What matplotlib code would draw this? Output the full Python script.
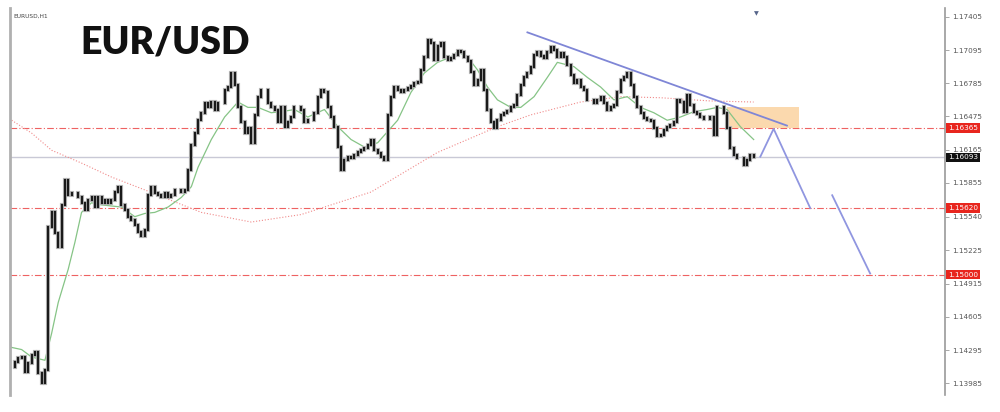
import matplotlib
matplotlib.use("Agg")
import matplotlib.pyplot as plt
import matplotlib.transforms as mtransforms

# EUR/USD H1 closes (one per candle)
closes = [
    1.1414, 1.1418, 1.1422, 1.1423, 1.1409, 1.1417, 1.1425, 1.1428, 1.1408, 1.1399,
    1.1411, 1.1544, 1.1558, 1.1539, 1.1526, 1.1565, 1.1588, 1.1574, 1.1576, 1.1576,
    1.1572, 1.1567, 1.1560, 1.1570, 1.1572, 1.1563, 1.1572, 1.1567, 1.1570, 1.1567,
    1.1570, 1.1577, 1.1582, 1.1565, 1.1560, 1.1554, 1.1551, 1.1546, 1.1540, 1.1536,
    1.1542, 1.1574, 1.1582, 1.1576, 1.1574, 1.1572, 1.1576, 1.1572, 1.1574, 1.1579,
    1.1579, 1.1577, 1.1579, 1.1598, 1.1621, 1.1632, 1.1644, 1.1651, 1.1660, 1.1656,
    1.1661, 1.1654, 1.1660, 1.1660, 1.1672, 1.1675, 1.1688, 1.1677, 1.1656, 1.1642,
    1.1632, 1.1637, 1.1623, 1.1649, 1.1666, 1.1672, 1.1672, 1.1660, 1.1656, 1.1654,
    1.1642, 1.1656, 1.1638, 1.1642, 1.1647, 1.1656, 1.1656, 1.1654, 1.1642, 1.1644,
    1.1644, 1.1651, 1.1666, 1.1672, 1.1670, 1.1656, 1.1647, 1.1638, 1.1619, 1.1598,
    1.1607, 1.1610, 1.1609, 1.1612, 1.1614, 1.1616, 1.1618, 1.1621, 1.1626, 1.1616,
    1.1613, 1.1610, 1.1607, 1.1649, 1.1666, 1.1675, 1.1672, 1.1670, 1.1672, 1.1674,
    1.1676, 1.1679, 1.1680, 1.1691, 1.1703, 1.1719, 1.1716, 1.1700, 1.1713, 1.1716,
    1.1703, 1.1700, 1.1702, 1.1705, 1.1709, 1.1708, 1.1703, 1.1699, 1.1689, 1.1677,
    1.1682, 1.1691, 1.1672, 1.1654, 1.1642, 1.1637, 1.1644, 1.1649, 1.1651, 1.1653,
    1.1656, 1.1658, 1.1668, 1.1677, 1.1684, 1.1688, 1.1694, 1.1705, 1.1708, 1.1704,
    1.1702, 1.1708, 1.1712, 1.1710, 1.1703, 1.1707, 1.1703, 1.1696, 1.1686, 1.1679,
    1.1682, 1.1675, 1.1672, 1.1663, 1.1663, 1.1660, 1.1663, 1.1666, 1.1660, 1.1654,
    1.1656, 1.1658, 1.1670, 1.1682, 1.1684, 1.1688, 1.1677, 1.1666, 1.1656, 1.1651,
    1.1646, 1.1644, 1.1643, 1.1637, 1.1629, 1.1630, 1.1635, 1.1638, 1.1640, 1.1642,
    1.1663, 1.1661, 1.1652, 1.1668, 1.1658, 1.1652, 1.1650, 1.1647, 1.1645, 1.1645,
    1.1647, 1.1630, 1.1656, 1.1656, 1.1651, 1.1637, 1.1618, 1.1612, 1.1609, 1.1609,
    1.1602, 1.1607, 1.1612, 1.1610,
]

# fast moving average (green), read at some candles
fast_ma_idx = [0, 3, 6, 10, 12, 14, 17, 19, 21, 24, 27, 33, 37, 40, 43, 47, 51, 54, 56, 60,
               64, 68, 71, 74, 78, 81, 85, 89, 94, 98, 102, 106, 110, 116, 120, 124, 128, 132,
               134, 137, 140, 143, 146, 150, 153, 157, 161, 164, 169, 173, 177, 181, 185, 189,
               193, 197, 201, 205, 209, 212, 215, 219, 223]
fast_ma = [1.1432, 1.1430, 1.1423, 1.1420, 1.1445, 1.1474, 1.1505, 1.1530, 1.1558, 1.1567,
           1.1565, 1.1563, 1.1554, 1.1557, 1.1558, 1.1563, 1.1572, 1.1582, 1.1600, 1.1626,
           1.1647, 1.1661, 1.1656, 1.1656, 1.1651, 1.1652, 1.1654, 1.1647, 1.1654, 1.1638,
           1.1626, 1.1619, 1.1623, 1.1644, 1.1670, 1.1688, 1.1698, 1.1703, 1.1708, 1.1703,
           1.1691, 1.1675, 1.1663, 1.1656, 1.1656, 1.1666, 1.1684, 1.1698, 1.1694, 1.1684,
           1.1675, 1.1663, 1.1666, 1.1656, 1.1651, 1.1644, 1.1647, 1.1652, 1.1654, 1.1656,
           1.1654, 1.1638, 1.1626]

# slow moving average (red dotted)
slow_ma_idx = [0, 6, 12, 21, 30, 40, 57, 72, 87, 99, 108, 115, 128, 146, 156, 171, 183, 195, 210, 223]
slow_ma = [1.1644, 1.1632, 1.1616, 1.1604, 1.1591, 1.1579, 1.1558, 1.1549, 1.1556, 1.1568,
           1.1577, 1.1590, 1.1614, 1.1638, 1.1649, 1.1661, 1.1666, 1.1665, 1.1662, 1.1661]

levels = [1.16365, 1.15620, 1.15000]
current_price = 1.16093

trend_idx = [155, 233]
trend_px = [1.1726, 1.1639]

proj1_idx = [225, 229, 240]
proj1_px = [1.1610, 1.1636, 1.1562]
proj2_idx = [246.6, 258]
proj2_px = [1.1574, 1.1501]

zone_idx = [215, 236.7]
zone_px = [1.16365, 1.1656]

yticks = [1.17405, 1.17095, 1.16785, 1.16475, 1.16165, 1.15855, 1.15540,
          1.15225, 1.14915, 1.14605, 1.14295, 1.13985]

fig = plt.figure(figsize=(10, 4.12), dpi=100)
ax = fig.add_axes([0.010, 0.041, 0.935, 0.940])

# levels and current price
for lv in levels:
    ax.axhline(lv, color='#ee6262', lw=0.8, dashes=(6, 2, 1, 2), zorder=1)
ax.axhline(current_price, color='#c9c9d6', lw=1.0, zorder=1)

# supply zone
ax.fill_between(zone_idx, zone_px[0], zone_px[1], color='#fbd9ae', lw=0, zorder=1)

# moving averages
ax.plot(slow_ma_idx, slow_ma, color='#f08a8a', lw=0.8, ls=':', zorder=2)
ax.plot(fast_ma_idx, fast_ma, color='#86c486', lw=0.9, zorder=2)

# candles (body from previous close to close)
opens = [closes[0]] + closes[:-1]
idx = list(range(len(closes)))
ax.vlines(idx, opens, closes, color='#bbbbbb', lw=3.0, zorder=3, capstyle='projecting')
ax.vlines(idx, opens, closes, color='#1a1a1a', lw=1.6, zorder=4, capstyle='projecting')

# trend line and projection
ax.plot(trend_idx, trend_px, color='#7f86d6', lw=1.3, zorder=5)
ax.plot(proj1_idx, proj1_px, color='#9096e0', lw=1.3, zorder=5)
ax.plot(proj2_idx, proj2_px, color='#9096e0', lw=1.3, zorder=5)

ax.set_xlim(-0.5, 280.5)
ax.set_ylim(1.13875, 1.17489)

ax.yaxis.tick_right()
ax.set_yticks(yticks)
ax.set_yticklabels([f"{t:.5f}" for t in yticks])
ax.tick_params(axis='y', length=3, width=0.6, color='#999999', labelsize=5.2,
               labelcolor='#555555', pad=2)
ax.set_xticks([])
for s in ['top', 'bottom']:
    ax.spines[s].set_visible(False)
ax.spines['left'].set_color('#b0b0b0')
ax.spines['left'].set_linewidth(2.0)
ax.spines['right'].set_color('#9a9a9a')
ax.spines['right'].set_linewidth(1.2)

# price labels on the right axis
trans = mtransforms.blended_transform_factory(ax.transAxes, ax.transData)
for lv in levels:
    ax.text(1.0035, lv, f"{lv:.5f}", transform=trans, ha='left', va='center',
            fontsize=5.2, color='white', zorder=10, clip_on=False,
            bbox=dict(boxstyle='square,pad=0.25', fc='#e8261e', ec='none'))
ax.text(1.0035, current_price, f"{current_price:.5f}", transform=trans, ha='left',
        va='center', fontsize=5.2, color='white', zorder=10, clip_on=False,
        bbox=dict(boxstyle='square,pad=0.25', fc='#111111', ec='none'))

ax.text(0.004, 0.985, "EURUSD,H1", transform=ax.transAxes, fontsize=4.2,
        color='#444444', va='top', ha='left')
ax.text(0.7985, 0.99, "\u25BC", transform=ax.transAxes, fontsize=4.5,
        color='#56658a', va='top', ha='center')

fig.text(0.080, 0.869, "EUR/USD", fontsize=27, fontweight='heavy', family='Lato',
         color='#111111', ha='left', va='baseline')

fig.savefig("out.png", dpi=100)
